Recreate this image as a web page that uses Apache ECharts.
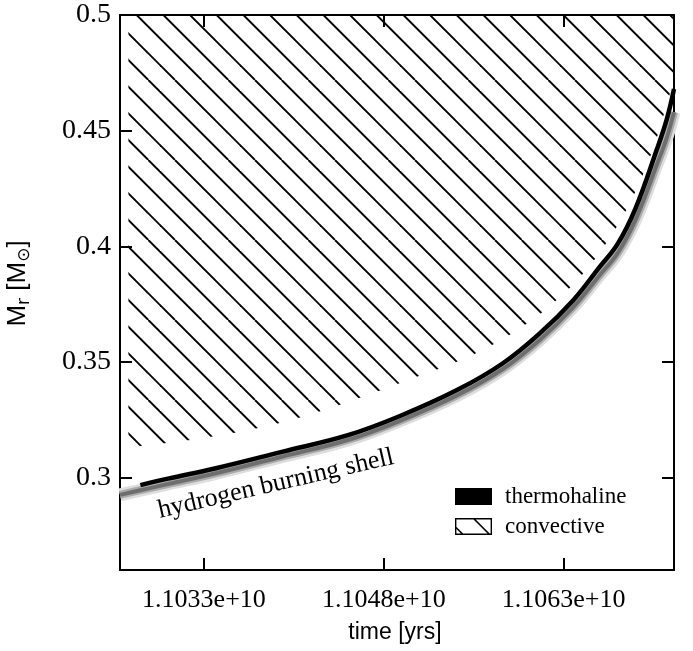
<!DOCTYPE html>
<html>
<head>
<meta charset="utf-8">
<script src="https://cdn.jsdelivr.net/npm/echarts@6/dist/echarts.min.js"></script>
<style>
html,body{margin:0;padding:0;background:#fff;}
#chart{width:693px;height:651px;}
</style>
</head>
<body>
<div id="chart"></div>
<script>
// time in units of 1e6 yr
const xMin = 11026, xMax = 11072.2;
const yMin = 0.26, yMax = 0.5;
const xTickValues = [11033, 11048, 11063];
const xTickLabels = ['1.1033e+10', '1.1048e+10', '1.1063e+10'];
const yTickValues = [0.3, 0.35, 0.4, 0.45, 0.5];
const yTickLabels = ['0.3', '0.35', '0.4', '0.45', '0.5'];

// lower boundary of convective zone
const convTime = [11026.7, 11030, 11034, 11038, 11042, 11046, 11050.7, 11053.9, 11057, 11059.75, 11062.25, 11064.5, 11066.5, 11068.5, 11070.3, 11071.4, 11072.2];
const convMass = [0.3130, 0.3150, 0.3180, 0.3220, 0.3275, 0.3345, 0.3435, 0.3496, 0.3572, 0.3659, 0.3760, 0.3875, 0.4010, 0.4185, 0.4400, 0.4580, 0.4720];

// thermohaline mixing band
const thermoTime = [11027.7, 11030, 11033.9, 11039.5, 11045.0, 11049.3, 11054.1, 11057.9, 11061.0, 11063.8, 11066.0, 11067.5, 11069, 11070.75, 11071.6, 11072.2];
const thermoMass = [0.2967, 0.2995, 0.3039, 0.3111, 0.3183, 0.3265, 0.3378, 0.3493, 0.3623, 0.3767, 0.3911, 0.4010, 0.4165, 0.4416, 0.4550, 0.4680];

// hydrogen burning shell
const shellTime = [11026, 11027.7, 11030, 11033.9, 11039.5, 11045.0, 11049.3, 11054.1, 11057.9, 11061.0, 11063.8, 11066.0, 11067.5, 11069, 11070.75, 11071.6, 11072.2];
const shellMass = [0.2925, 0.2945, 0.2972, 0.3017, 0.3090, 0.3162, 0.3244, 0.3355, 0.3468, 0.3595, 0.3737, 0.3875, 0.3970, 0.4115, 0.4350, 0.4470, 0.4580];

const shellLabel = 'hydrogen burning shell';
const shellLabelPos = [11039.0, 0.2972];

const zip = (a, b) => a.map((v, i) => [v, b[i]]);

// hatch pattern tile
const tile = document.createElement('canvas');
tile.width = 80; tile.height = 80;
const tctx = tile.getContext('2d');
tctx.strokeStyle = '#000';
tctx.lineWidth = 1.9;
for (let k = -7; k <= 4; k++) {
  const d = 15 + k * 80 / 3;
  tctx.beginPath();
  tctx.moveTo(d, 0);
  tctx.lineTo(d + 80, 80);
  tctx.stroke();
}

const convIcon = 'path://M0 0L37 0L37 17L0 17Z M1.4 1.4L1.4 15.6L35.6 15.6L35.6 1.4Z M17 0L19.2 0L36.2 17L34 17Z M0 7.4L9.6 17L7.4 17L0 9.6Z';

const serif = 'Liberation Serif';
const sans = 'Liberation Sans';

const axisCommon = {
  type: 'value',
  axisLine: { show: true, onZero: false, lineStyle: { color: '#000', width: 2 } },
  splitLine: { show: false }
};

const chart = echarts.init(document.getElementById('chart'), null, { renderer: 'canvas' });
const findLabel = (vals, labels, v) => {
  for (let i = 0; i < vals.length; i++) if (Math.abs(vals[i] - v) < 1e-6) return labels[i];
  return '';
};
const curve = { smooth: 0.4, showSymbol: false, symbol: 'none' };

chart.setOption({
  animation: false,
  backgroundColor: '#fff',
  grid: { left: 120, right: 19, top: 15, bottom: 81, containLabel: false, outerBoundsMode: 'none' },
  legend: {
    orient: 'vertical',
    left: 455, top: 485, padding: 0,
    itemWidth: 37, itemHeight: 17, itemGap: 7,
    textStyle: { fontFamily: serif, fontSize: 23, color: '#000', padding: [0, 0, 0, 8] },
    data: [
      { name: 'thermohaline', icon: 'rect', itemStyle: { color: '#000', borderWidth: 0 } },
      { name: 'convective', icon: convIcon, itemStyle: { color: '#000', borderWidth: 0 } }
    ]
  },
  xAxis: [
    Object.assign({}, axisCommon, {
      min: xMin, max: xMax, position: 'bottom',
      axisTick: { show: true, inside: true, length: 12, lineStyle: { color: '#000', width: 2 }, customValues: xTickValues },
      axisLabel: { customValues: xTickValues, formatter: v => findLabel(xTickValues, xTickLabels, v),
        fontFamily: serif, fontSize: 26, color: '#000', margin: 17 },
      name: 'time [yrs]', nameLocation: 'middle', nameGap: 51,
      nameTextStyle: { fontFamily: sans, fontSize: 23, color: '#000', padding: [0, 4, 0, 0] }
    }),
    Object.assign({}, axisCommon, {
      min: xMin, max: xMax, position: 'top',
      axisTick: { show: true, inside: true, length: 12, lineStyle: { color: '#000', width: 2 }, customValues: xTickValues },
      axisLabel: { show: false }
    })
  ],
  yAxis: [
    Object.assign({}, axisCommon, {
      min: yMin, max: yMax, position: 'left',
      axisTick: { show: true, inside: true, length: 12, lineStyle: { color: '#000', width: 2 }, customValues: yTickValues },
      axisLabel: { customValues: yTickValues, formatter: v => findLabel(yTickValues, yTickLabels, v),
        fontFamily: serif, fontSize: 28, color: '#000', margin: 9 },
      name: '{m|M}{s|r}{m| [M}{s|⊙}{m|]}', nameLocation: 'middle', nameGap: 87,
      nameTextStyle: {
        fontFamily: sans, fontSize: 26, color: '#000', padding: [0, 0, 0, 18],
        rich: {
          m: { fontFamily: sans, fontSize: 26, color: '#000', lineHeight: 30 },
          s: { fontFamily: 'DejaVu Sans', fontSize: 17, color: '#000', lineHeight: 17, verticalAlign: 'bottom' }
        }
      }
    }),
    Object.assign({}, axisCommon, {
      min: yMin, max: yMax, position: 'right',
      axisTick: { show: true, inside: true, length: 12, lineStyle: { color: '#000', width: 2 }, customValues: yTickValues },
      axisLabel: { show: false }
    })
  ],
  series: [
    Object.assign({
      name: 'convective', type: 'line',
      data: zip(convTime, convMass),
      lineStyle: { width: 0, opacity: 0 },
      itemStyle: { color: '#000' },
      areaStyle: { origin: 'end', opacity: 1, color: { image: tile, repeat: 'repeat' } },
      z: 1
    }, curve),
    Object.assign({
      name: 'shellOuter', type: 'line', data: zip(shellTime, shellMass),
      lineStyle: { width: 13, color: '#dedede', cap: 'butt' }, z: 2
    }, curve),
    Object.assign({
      name: 'shellMid', type: 'line', data: zip(shellTime, shellMass),
      lineStyle: { width: 8, color: '#ababab', cap: 'butt' }, z: 3
    }, curve),
    Object.assign({
      name: 'shellInner', type: 'line', data: zip(shellTime, shellMass),
      lineStyle: { width: 4, color: '#6e6e6e', cap: 'butt' }, z: 4
    }, curve),
    Object.assign({
      name: 'thermohaline', type: 'line', data: zip(thermoTime, thermoMass),
      itemStyle: { color: '#000' },
      lineStyle: { width: 4.5, color: '#000', cap: 'butt' }, z: 5
    }, curve),
    {
      name: 'label', type: 'scatter', data: [shellLabelPos],
      symbolSize: 1, itemStyle: { color: 'rgba(255,255,255,0)', opacity: 1 }, silent: true, z: 6,
      label: { show: true, position: 'inside', formatter: shellLabel, rotate: 13, opacity: 1,
        textBorderWidth: 0, fontFamily: serif, fontSize: 26, color: '#000' }
    }
  ]
});
</script>
</body>
</html>
